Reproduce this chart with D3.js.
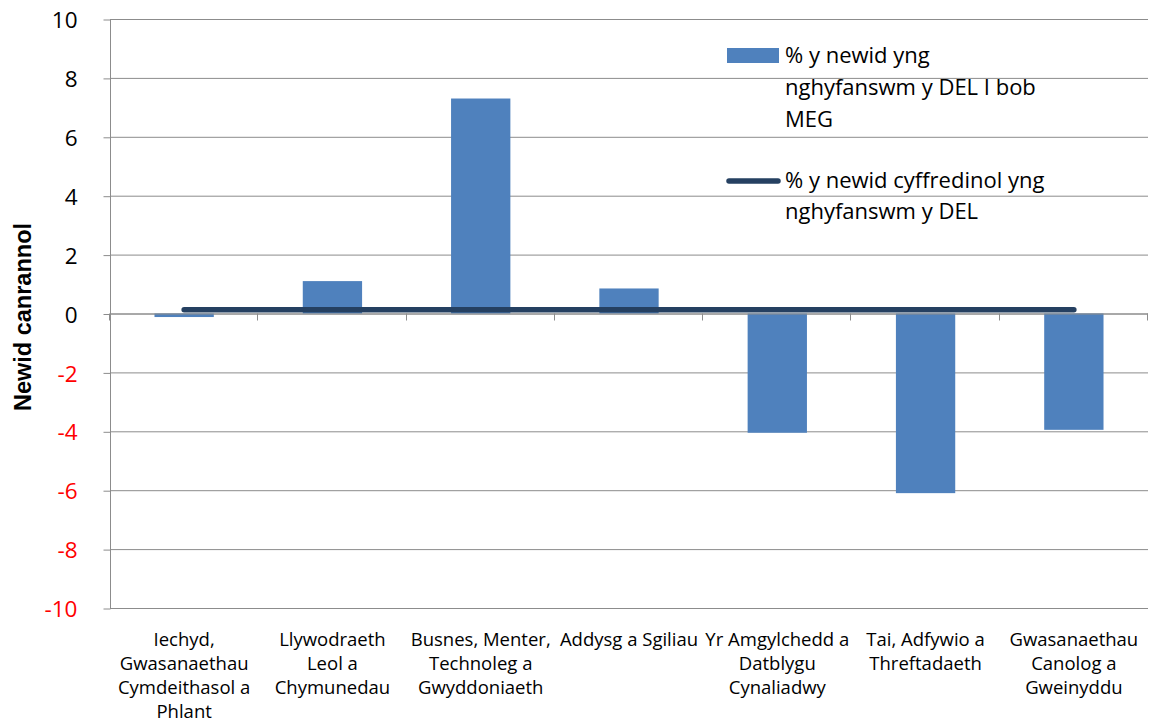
<!DOCTYPE html>
<html><head><meta charset="utf-8">
<script src="https://cdn.jsdelivr.net/npm/d3@7"></script>
<style>body{margin:0;background:#fff}svg{display:block;font-family:"Open Sans",sans-serif}</style>
</head><body><svg id="c" width="1149" height="726"></svg>
<script>
const categories = [
  ["Iechyd,","Gwasanaethau","Cymdeithasol a","Phlant"],
  ["Llywodraeth","Leol a","Chymunedau"],
  ["Busnes, Menter,","Technoleg a","Gwyddoniaeth"],
  ["Addysg a Sgiliau"],
  ["Yr Amgylchedd a","Datblygu","Cynaliadwy"],
  ["Tai, Adfywio a","Threftadaeth"],
  ["Gwasanaethau","Canolog a","Gweinyddu"]
];
const barValues = [-0.12, 1.1, 7.3, 0.85, -4.05, -6.1, -3.95];
const lineValues = [0.13, 0.13, 0.13, 0.13, 0.13, 0.13, 0.13];
const yTicks = [-10,-8,-6,-4,-2,0,2,4,6,8,10];
const seriesNames = [["% y newid yng","nghyfanswm y DEL I bob","MEG"],["% y newid cyffredinol yng","nghyfanswm y DEL"]];
const yTitle = "Newid canrannol";

const svg = d3.select("#c");
const L = 110, R = 1148, T = 19, B = 608;
const idx = d3.range(categories.length);
const x = d3.scaleBand().domain(idx).range([L, R]).paddingInner(0.6).paddingOuter(0.3);
const xc = d3.scaleBand().domain(idx).range([L, R]);
const y = d3.scaleLinear().domain([-10, 10]).range([B, T]);

// gridlines
svg.append("g").selectAll("line").data(yTicks).join("line")
  .attr("x1", L).attr("x2", R).attr("y1", d => y(d)+0.5).attr("y2", d => y(d)+0.5)
  .attr("stroke", "#8c8c8c").attr("stroke-width", 1);

// bars
svg.append("g").selectAll("rect").data(barValues).join("rect")
  .attr("x", (d,i) => x(i)).attr("width", x.bandwidth())
  .attr("y", d => y(Math.max(0,d))).attr("height", d => Math.abs(y(d)-y(0)))
  .attr("fill", "#4f81bd");

// y axis
const yAxis = d3.axisLeft(y).tickValues(yTicks).tickSize(7).tickFormat(d => String(d));
const ga = svg.append("g").attr("transform", `translate(${L+0.5},0.5)`).call(yAxis);
ga.select(".domain").attr("stroke", "#8c8c8c").attr("d", `M0,${T}V${B}`);
ga.selectAll(".tick line").attr("stroke", "#8c8c8c");
ga.selectAll(".tick text").attr("font-size", 22.5).attr("x", -33).attr("dy", "0.36em")
  .attr("font-family", "'Open Sans',sans-serif")
  .attr("fill", d => d < 0 ? "#ff0000" : "#000");

// x axis at zero
const xAxisLine = svg.append("g");
xAxisLine.append("line").attr("x1", L).attr("x2", R).attr("y1", y(0)+0.5).attr("y2", y(0)+0.5).attr("stroke", "#8c8c8c");
const bounds = idx.map(i => xc(i)).concat([R]);
xAxisLine.selectAll("line.t").data(bounds).join("line").attr("class","t")
  .attr("x1", d => Math.round(d)-0.5).attr("x2", d => Math.round(d)-0.5)
  .attr("y1", y(0)).attr("y2", y(0)+7).attr("stroke", "#8c8c8c");

// line series
const lineGen = d3.line().x((d,i) => xc(i) + xc.bandwidth()/2).y(d => y(d));
svg.append("path").datum(lineValues).attr("d", lineGen)
  .attr("fill", "none").attr("stroke", "#254061").attr("stroke-width", 5.5).attr("stroke-linecap", "round");

// category labels
const gl = svg.append("g").attr("font-size", 18.5).attr("text-anchor", "middle").attr("fill", "#000");
categories.forEach((lines, i) => {
  const cx = xc(i) + xc.bandwidth()/2;
  const t = gl.append("text").attr("x", cx).attr("y", 646);
  lines.forEach((s, j) => t.append("tspan").attr("x", cx).attr("dy", j === 0 ? 0 : 24).text(s));
});

// y title
svg.append("text").attr("transform", `translate(31,317) rotate(-90)`)
  .attr("text-anchor", "middle").attr("font-size", 23.5).attr("font-weight", "bold")
  .attr("font-family", "'Liberation Sans',Arial,sans-serif").text(yTitle);

// legend
const lg = svg.append("g").attr("font-size", 22).attr("fill", "#000");
lg.append("rect").attr("x", 727).attr("y", 48).attr("width", 52).attr("height", 15).attr("fill", "#4f81bd");
const t1 = lg.append("text").attr("x", 785).attr("y", 63);
seriesNames[0].forEach((s, j) => t1.append("tspan").attr("x", 785).attr("dy", j === 0 ? 0 : 32).text(s));
lg.append("line").attr("x1", 729).attr("x2", 778).attr("y1", 181).attr("y2", 181)
  .attr("stroke", "#254061").attr("stroke-width", 5.5).attr("stroke-linecap", "round");
const t2 = lg.append("text").attr("x", 785).attr("y", 188);
seriesNames[1].forEach((s, j) => t2.append("tspan").attr("x", 785).attr("dy", j === 0 ? 0 : 31).text(s));
</script></body></html>
